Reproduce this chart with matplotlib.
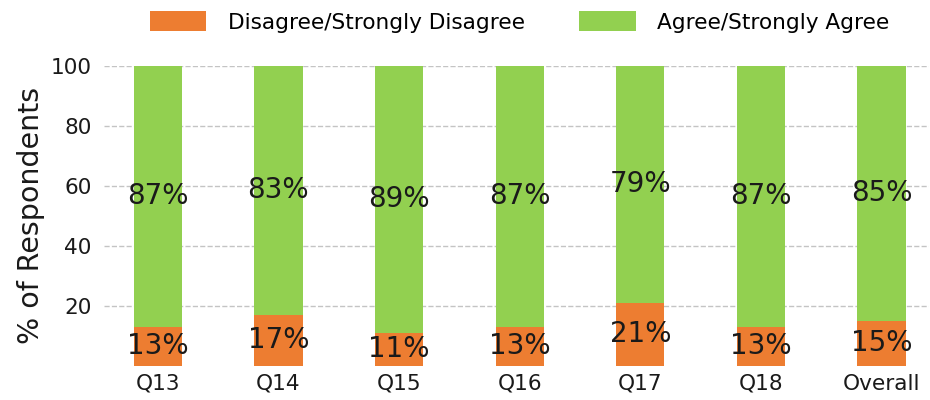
import matplotlib
matplotlib.use("Agg")
import matplotlib.pyplot as plt
import numpy as np

# ── Data ─────────────────────────────────────────────────────
questions = ["Q13", "Q14", "Q15", "Q16", "Q17", "Q18", "Overall"]
disagree = [13, 17, 11, 13, 21, 13, 15]
agree = [87, 83, 89, 87, 79, 87, 85]
yticks = [20, 40, 60, 80, 100]

orange = "#ED7D31"
green = "#92D050"

# ── Figure ───────────────────────────────────────────────────
fig = plt.figure(figsize=(9.3, 4.0), dpi=100, facecolor="white")
ax = fig.add_axes([104 / 930, 34.4 / 400, 825 / 930, 299.6 / 400])

x = np.arange(len(questions))
b1 = ax.bar(x, disagree, width=0.4, color=orange, label="Disagree/Strongly Disagree", zorder=3)
b2 = ax.bar(x, agree, width=0.4, bottom=disagree, color=green, label="Agree/Strongly Agree", zorder=3)

# percentage labels centred in each segment
for i in range(len(questions)):
    ax.text(x[i], disagree[i] / 2, f"{disagree[i]}%", ha="center", va="center",
            fontsize=20, color="#1a1a1a", zorder=4)
    ax.text(x[i], disagree[i] + agree[i] / 2, f"{agree[i]}%", ha="center", va="center",
            fontsize=20, color="#1a1a1a", zorder=4)

ax.set_xlim(-0.446, 6.394)
ax.set_ylim(0, 100)
ax.set_xticks(x)
ax.set_xticklabels(questions)
ax.set_yticks(yticks)
ax.tick_params(axis="both", length=0, labelsize=15.6, colors="#1a1a1a")
ax.tick_params(axis="y", pad=9)
ax.tick_params(axis="x", pad=6)
ax.set_ylabel("% of Respondents", fontsize=20.5, color="#1a1a1a", labelpad=4)

ax.yaxis.grid(True, ls="--", color="#c4c4c4", lw=1, zorder=0)
ax.set_axisbelow(True)
for s in ax.spines.values():
    s.set_visible(False)

fig.legend(handles=[b1, b2], loc="center", bbox_to_anchor=(0.559, 0.945), ncol=2,
           frameon=False, fontsize=15.6, handlelength=2.6, handleheight=1.0,
           handletextpad=1.0, columnspacing=2.5)

fig.savefig("out.png", dpi=100, facecolor="white")
